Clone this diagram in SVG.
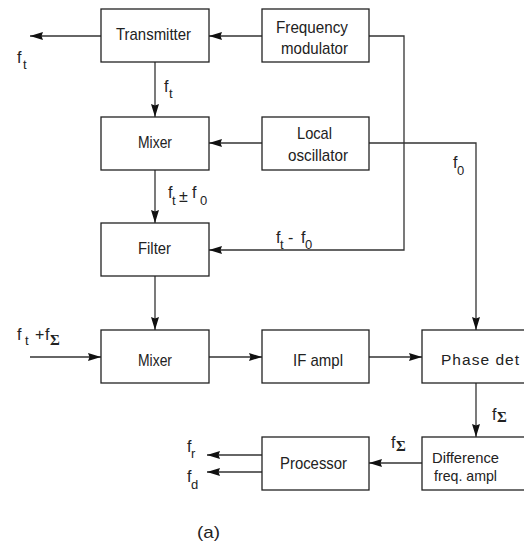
<svg xmlns="http://www.w3.org/2000/svg" width="524" height="552" viewBox="0 0 524 552">
<defs>
<style>
.box{fill:#fff;stroke:#222;stroke-width:1.3}
.ln{fill:none;stroke:#333;stroke-width:1.3}
.t{font-family:"Liberation Sans",Arial,sans-serif;font-size:17px;fill:#222}
.f{font-family:"Liberation Sans",Arial,sans-serif;font-size:16px;fill:#222}
.c{text-anchor:middle}
.s{font-size:13px}
.sig{font-family:"Liberation Serif","Times New Roman",serif;font-weight:bold;font-size:15px}
</style>
<marker id="ah" markerUnits="userSpaceOnUse" markerWidth="14" markerHeight="9" refX="13" refY="4" orient="auto">
<path d="M0,0 L13,4 L0,8 L1.5,4 z" fill="#111"/>
</marker>
</defs>
<rect width="524" height="552" fill="#fff"/>
<g id="connectors">
<path class="ln" d="M262,36 L209,36" marker-end="url(#ah)"/>
<path class="ln" d="M101,36 L30,36" marker-end="url(#ah)"/>
<path class="ln" d="M155,62 L155,117" marker-end="url(#ah)"/>
<path class="ln" d="M262,143 L209,143" marker-end="url(#ah)"/>
<path class="ln" d="M155,170 L155,223" marker-end="url(#ah)"/>
<path class="ln" d="M369,36 L404,36 L404,250 L209,250" marker-end="url(#ah)"/>
<path class="ln" d="M369,143 L476,143 L476,330" marker-end="url(#ah)"/>
<path class="ln" d="M155,276 L155,330" marker-end="url(#ah)"/>
<path class="ln" d="M30,357 L101,357" marker-end="url(#ah)"/>
<path class="ln" d="M209,357 L262,357" marker-end="url(#ah)"/>
<path class="ln" d="M369,357 L422,357" marker-end="url(#ah)"/>
<path class="ln" d="M476,383 L476,437" marker-end="url(#ah)"/>
<path class="ln" d="M422,463 L369,463" marker-end="url(#ah)"/>
<path class="ln" d="M262,455 L207,455" marker-end="url(#ah)"/>
<path class="ln" d="M262,472 L207,472" marker-end="url(#ah)"/>
</g>
<g id="transmitter"><rect class="box" x="101" y="9" width="108" height="53"/><text class="t" x="116" y="40" textLength="75" lengthAdjust="spacingAndGlyphs">Transmitter</text></g>
<g id="freq-modulator"><rect class="box" x="262" y="9" width="107" height="53"/><text class="t" x="276" y="33" textLength="72" lengthAdjust="spacingAndGlyphs">Frequency</text><text class="t" x="281" y="54" textLength="67" lengthAdjust="spacingAndGlyphs">modulator</text></g>
<g id="mixer1"><rect class="box" x="101" y="117" width="108" height="53"/><text class="t" x="138" y="148" textLength="34" lengthAdjust="spacingAndGlyphs">Mixer</text></g>
<g id="local-oscillator"><rect class="box" x="262" y="117" width="107" height="53"/><text class="t" x="297" y="139" textLength="35" lengthAdjust="spacingAndGlyphs">Local</text><text class="t" x="288" y="161" textLength="60" lengthAdjust="spacingAndGlyphs">oscillator</text></g>
<g id="filter"><rect class="box" x="101" y="223" width="108" height="53"/><text class="t" x="138" y="254" textLength="33" lengthAdjust="spacingAndGlyphs">Filter</text></g>
<g id="mixer2"><rect class="box" x="101" y="330" width="108" height="53"/><text class="t" x="138" y="366" textLength="34" lengthAdjust="spacingAndGlyphs">Mixer</text></g>
<g id="if-ampl"><rect class="box" x="262" y="330" width="107" height="53"/><text class="t" x="293" y="366" textLength="50" lengthAdjust="spacingAndGlyphs">IF ampl</text></g>
<g id="phase-det"><rect class="box" x="422" y="330" width="110" height="53"/><text class="t" x="441" y="365" style="font-size:15.5px" textLength="78" lengthAdjust="spacing">Phase det</text></g>
<g id="diff-freq-ampl"><rect class="box" x="422" y="437" width="110" height="53"/><text class="t" x="432" y="463" style="font-size:15px" textLength="67" lengthAdjust="spacingAndGlyphs">Difference</text><text class="t" x="434" y="481" style="font-size:15px" textLength="63" lengthAdjust="spacingAndGlyphs">freq. ampl</text></g>
<g id="processor"><rect class="box" x="262" y="437" width="107" height="53"/><text class="t" x="280" y="469" textLength="67" lengthAdjust="spacingAndGlyphs">Processor</text></g>
<g id="labels">
<text class="f" x="17" y="63">f<tspan class="s" x="23" y="69">t</tspan></text>
<text class="f" x="164" y="92">f<tspan class="s" x="169" y="98">t</tspan></text>
<text class="f" x="168" y="198">f<tspan class="s" x="172" y="205">t</tspan><tspan x="179" y="202">±</tspan><tspan x="192" y="198">f</tspan><tspan class="s" x="200" y="205">0</tspan></text>
<text class="f" x="276" y="243">f<tspan class="s" x="280" y="249">t</tspan><tspan x="288" y="243">-</tspan><tspan x="301" y="243">f</tspan><tspan class="s" x="305" y="249">0</tspan></text>
<text class="f" x="453" y="168">f<tspan class="s" x="457" y="175">0</tspan></text>
<text class="f" x="17" y="340">f<tspan class="s" x="25" y="345">t</tspan><tspan x="35" y="340">+</tspan><tspan x="45" y="340">f</tspan><tspan class="sig" x="50" y="345">Σ</tspan></text>
<text class="f" x="492" y="420">f<tspan class="sig" x="497" y="422">Σ</tspan></text>
<text class="f" x="391" y="448">f<tspan class="sig" x="396" y="451">Σ</tspan></text>
<text class="f" x="187" y="452">f<tspan class="s" x="191" y="458">r</tspan></text>
<text class="f" x="187" y="482">f<tspan class="s" x="191" y="489">d</tspan></text>
<text class="t" x="197" y="538" textLength="23" lengthAdjust="spacingAndGlyphs">(a)</text>
</g>
</svg>
